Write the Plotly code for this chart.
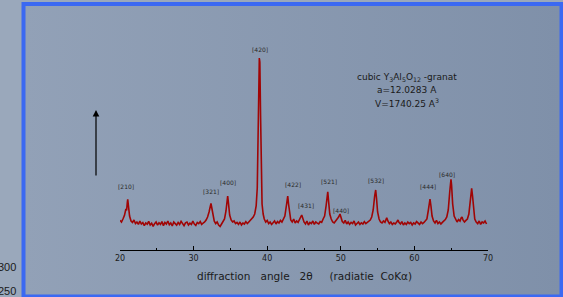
import plotly.graph_objects as go

W, H = 563, 297

# ---- data ----
two_theta = [
    20.0, 20.2, 20.4, 20.6, 20.8, 20.9, 21.0, 21.05, 21.15, 21.3, 21.5, 21.7, 21.9,
    22.1, 22.3, 22.5, 22.7, 22.9, 23.1, 23.3, 23.5, 23.7, 23.9, 24.1, 24.3, 24.5,
    24.7, 24.9, 25.1, 25.3, 25.5, 25.7, 25.9, 26.1, 26.3, 26.5, 26.7, 26.9, 27.1,
    27.3, 27.5, 27.7, 27.9, 28.1, 28.3, 28.5, 28.7, 28.9, 29.1, 29.3, 29.5, 29.7,
    29.9, 30.1, 30.3, 30.5, 30.7, 30.9, 31.1, 31.3, 31.5, 31.7, 31.9, 32.1, 32.25,
    32.36, 32.5, 32.65, 32.8, 33.0, 33.2, 33.4, 33.6, 33.8, 34.0, 34.2, 34.4, 34.55,
    34.63, 34.75, 34.9, 35.1, 35.3, 35.5, 35.7, 35.9, 36.1, 36.3, 36.5, 36.7, 36.9,
    37.1, 37.3, 37.5, 37.7, 37.9, 38.1, 38.3, 38.5, 38.65, 38.75, 38.85, 38.93, 39.0,
    39.1, 39.2, 39.3, 39.45, 39.6, 39.8, 40.0, 40.2, 40.4, 40.6, 40.8, 41.0, 41.2,
    41.4, 41.6, 41.8, 42.0, 42.2, 42.4, 42.6, 42.72, 42.79, 42.9, 43.05, 43.2, 43.4,
    43.6, 43.8, 44.0, 44.2, 44.4, 44.55, 44.69, 44.85, 45.0, 45.2, 45.4, 45.6, 45.8,
    46.0, 46.2, 46.4, 46.6, 46.8, 47.0, 47.2, 47.4, 47.6, 47.8, 48.0, 48.15, 48.23,
    48.35, 48.5, 48.7, 48.9, 49.1, 49.3, 49.5, 49.7, 49.89, 50.05, 50.2, 50.4, 50.6,
    50.8, 51.0, 51.2, 51.4, 51.6, 51.8, 52.0, 52.2, 52.4, 52.6, 52.8, 53.0, 53.2,
    53.4, 53.6, 53.8, 54.0, 54.2, 54.4, 54.6, 54.74, 54.85, 55.0, 55.2, 55.4, 55.6,
    55.8, 56.0, 56.1, 56.24, 56.4, 56.6, 56.8, 57.0, 57.2, 57.4, 57.6, 57.77, 57.9,
    58.1, 58.3, 58.5, 58.7, 58.9, 59.1, 59.3, 59.5, 59.7, 59.9, 60.1, 60.3, 60.5,
    60.7, 60.9, 61.1, 61.3, 61.5, 61.7, 61.9, 62.05, 62.12, 62.25, 62.4, 62.6, 62.8,
    63.0, 63.2, 63.4, 63.6, 63.8, 64.0, 64.2, 64.4, 64.6, 64.8, 64.9, 64.97, 65.05,
    65.2, 65.4, 65.6, 65.8, 66.0, 66.2, 66.35, 66.47, 66.6, 66.8, 67.0, 67.2, 67.4,
    67.6, 67.72, 67.78, 67.9, 68.05, 68.2, 68.4, 68.6, 68.8, 69.0, 69.2, 69.4, 69.6,
    69.8,
]
intensity = [
    38, 30, 45, 62, 95, 88, 130, 143, 110, 60, 35, 28, 40,
    22, 30, 18, 34, 20, 27, 12, 25, 19, 33, 15, 24, 8,
    22, 30, 14, 26, 18, 32, 12, 28, 20, 35, 16, 25, 10,
    30, 22, 14, 28, 18, 33, 20, 12, 26, 30, 15, 24, 18,
    34, 20, 13, 28, 22, 32, 18, 25, 30, 40, 55, 80, 110,
    123, 95, 55, 35, 22, 30, 15, 8, 20, 30, 45, 85, 140,
    160, 120, 65, 40, 30, 35, 22, 28, 18, 30, 15, 25, 20,
    32, 22, 30, 38, 45, 55, 70, 110, 200, 420, 720, 850, 830,
    560, 260, 120, 70, 45, 30, 38, 22, 30, 18, 28, 35, 20,
    32, 25, 38, 30, 45, 60, 110, 150, 160, 120, 65, 40, 30,
    45, 25, 35, 28, 40, 55, 65, 45, 30, 20, 35, 15, 28,
    22, 35, 18, 30, 24, 20, 32, 28, 45, 60, 110, 165, 181,
    130, 70, 45, 30, 25, 35, 40, 55, 70, 50, 32, 25, 38,
    20, 30, 18, 28, 22, 35, 15, 25, 30, 18, 26, 20, 32,
    22, 28, 35, 40, 55, 90, 160, 190, 150, 80, 45, 30, 25,
    35, 28, 40, 51, 35, 22, 30, 18, 25, 20, 30, 40, 28,
    20, 32, 15, 25, 18, 30, 22, 28, 15, 26, 20, 32, 25,
    18, 30, 22, 28, 35, 45, 90, 135, 145, 110, 60, 35, 25,
    38, 22, 30, 20, 28, 35, 42, 55, 90, 180, 230, 243, 215,
    120, 60, 40, 30, 42, 35, 50, 55, 40, 30, 38, 45, 70,
    150, 190, 198, 160, 80, 45, 30, 22, 35, 18, 30, 25, 35,
    20,
]

peak_labels = ["[210]", "[321]", "[400]", "[420]", "[422]", "[431]",
               "[521]", "[440]", "[532]", "[444]", "[640]"]
label_theta = [20.79, 32.30, 34.67, 38.98, 43.5, 45.24,
               48.33, 50.06, 54.75, 61.78, 64.48]
label_level = [207, 185, 229, 895, 218, 115, 235, 90, 240, 207, 270]

x_ticks = [20, 30, 40, 50, 60, 70]
x_title = "diffraction   angle   2\u03b8     (radiatie  CoK\u03b1)"
info_lines = ["cubic Y<sub>3</sub>Al<sub>5</sub>O<sub>12</sub> -granat",
              "a=12.0283 A",
              "V=1740.25 A<sup>3</sup>"]
edge_labels = ["300", "250"]

# ---- helpers for pixel placement in paper coordinates ----
def px(x):
    return x / W

def py(y):
    return 1 - y / H

fig = go.Figure()

# background panel with a soft horizontal gradient (decoration, pixel axes)
fig.add_trace(go.Scatter(
    x=[23.5, 561.5, 561.5, 23.5, 23.5], y=[4, 4, 296.5, 296.5, 4],
    xaxis="x", yaxis="y", mode="lines", line=dict(width=0),
    fill="toself",
    fillgradient=dict(type="horizontal",
                      colorscale=[[0, "#92a1b7"], [1, "#7f90a9"]]),
    hoverinfo="skip", showlegend=False,
))

# diffraction pattern
fig.add_trace(go.Scatter(
    x=two_theta, y=intensity, xaxis="x2", yaxis="y2",
    mode="lines", line=dict(color="#a00505", width=1.6),
    showlegend=False,
))

annotations = []
for lab, t, lv in zip(peak_labels, label_theta, label_level):
    annotations.append(dict(x=t, y=lv, xref="x2", yref="y2", text=lab,
                            showarrow=False, xanchor="center", yanchor="middle",
                            font=dict(family="DejaVu Sans", size=6, color="#2a2a2a")))

for line, yy in zip(info_lines, [77, 90, 103]):
    annotations.append(dict(x=px(406.5), y=py(yy), xref="paper", yref="paper",
                            text=line, showarrow=False,
                            xanchor="center", yanchor="middle",
                            font=dict(family="DejaVu Sans", size=9, color="#1a1a1a")))

annotations.append(dict(x=px(304), y=py(276), xref="paper", yref="paper",
                        text=x_title, showarrow=False,
                        xanchor="center", yanchor="middle",
                        font=dict(family="DejaVu Sans", size=10.5, color="#1a1a1a")))

for lab, yy in zip(edge_labels, [267, 291]):
    annotations.append(dict(x=px(17.5), y=py(yy), xref="paper", yref="paper",
                            xanchor="right", yanchor="middle",
                            text=lab, showarrow=False,
                            font=dict(family="Liberation Sans", size=11, color="#1a1a1a")))

# vertical arrow
annotations.append(dict(x=px(96), y=py(110), xref="paper", yref="paper",
                        ax=0, ay=67, axref="pixel", ayref="pixel",
                        text="", showarrow=True, arrowhead=2, arrowsize=1.1,
                        arrowwidth=1.2, arrowcolor="#000000"))

fig.update_layout(
    width=W, height=H,
    margin=dict(l=0, r=0, t=0, b=0, autoexpand=False),
    paper_bgcolor="#9aa8bb",
    plot_bgcolor="rgba(0,0,0,0)",
    showlegend=False,
    xaxis=dict(domain=[0, 1], range=[0, W], visible=False, fixedrange=True),
    yaxis=dict(domain=[0, 1], range=[H, 0], visible=False, fixedrange=True),
    xaxis2=dict(domain=[px(120), px(488)], range=[20, 70], anchor="y2",
                tickvals=x_ticks, ticks="inside", ticklen=4, tickcolor="#000",
                showline=True, linecolor="#000", linewidth=1,
                showgrid=False, zeroline=False,
                minor=dict(dtick=5, tick0=20, ticks="inside", ticklen=2,
                           tickcolor="#000", showgrid=False),
                tickfont=dict(family="DejaVu Sans", size=8, color="#1a1a1a")),
    yaxis2=dict(domain=[py(250), py(40)], range=[-110, 940], anchor="x2",
                visible=False, showgrid=False, zeroline=False),
    annotations=annotations,
    shapes=[dict(type="rect", xref="paper", yref="paper",
                 x0=px(23.5), x1=px(561.5), y0=py(296.5), y1=py(4),
                 line=dict(color="#3b69f2", width=4), layer="above")],
)

fig.write_html(
    "out.html",
    config={"displayModeBar": False},
    post_script="document.body.style.margin='0';document.body.style.padding='0';"
                "document.body.style.overflow='hidden';",
)
